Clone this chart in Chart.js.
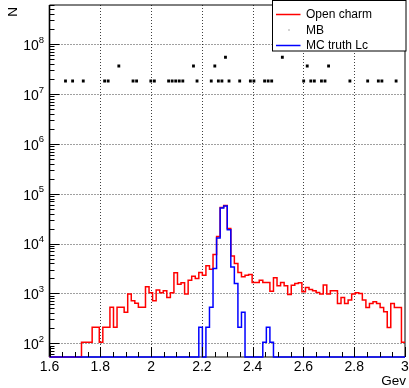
<!DOCTYPE html>
<html>
<head>
<meta charset="utf-8">
<script src="https://cdn.jsdelivr.net/npm/chart.js@4.4.1/dist/chart.umd.min.js"></script>
<style>
  html, body { margin: 0; padding: 0; background: #fff; }
  #wrap { position: relative; width: 409px; height: 388px; }
</style>
</head>
<body>
<div id="wrap"><canvas id="chart" width="409" height="388"></canvas></div>
<script>
// histogram binning: 100 bins from 1.6 to 3.0 GeV
const X_MIN = 1.6
const X_MAX = 3.0
const BIN_W = 0.014
const Y_MIN = 53
const Y_MAX = 6.1e8

const xTickLabels = ['1.6', '1.8', '2', '2.2', '2.4', '2.6', '2.8', '3']
const yDecades = [2, 3, 4, 5, 6, 7, 8]

// bin contents
const openCharm = [
  0, 0, 0, 0, 0, 0, 0, 0, 0,
  105, 105, 105, 209, 209, 105, 209, 209, 525, 209,
  525, 525, 418, 968, 711, 631, 525, 525, 1355, 1028,
  711, 1164, 1028, 1127, 832, 1028, 2582, 1535, 1630, 968,
  1845, 2218, 2000, 2630, 2300, 3600, 3060, 6030, 13800, 53000,
  58000, 20000, 5650, 3980, 2630, 2150, 2320, 2390, 1660, 1660,
  1845, 1660, 1660, 1110, 2050, 1420, 1660, 1420, 955, 1460,
  1580, 1630, 1080, 1316, 1200, 1130, 1045, 968, 1466, 968,
  1130, 1130, 630, 830, 630, 735, 968, 1030, 1000, 735,
  524, 630, 681, 630, 524, 430, 208, 630, 524, 524, 105
]

const mcTruthLc = [
  0, 0, 0, 0, 0, 0, 0, 0, 0, 0,
  0, 0, 0, 0, 0, 0, 0, 0, 0, 0,
  0, 0, 0, 0, 0, 0, 0, 0, 0, 0,
  0, 0, 0, 0, 0, 0, 0, 0, 0, 0,
  0, 0, 209, 0, 209, 525, 3160, 12900, 51500, 56500,
  19000, 3400, 1585, 209, 418, 0, 0, 0, 0, 0,
  105, 209, 105, 0, 0, 0, 0, 0, 0, 0,
  0, 0, 0, 0, 0, 0, 0, 0, 0, 0,
  0, 0, 0, 0, 0, 0, 0, 0, 0, 0,
  0, 0, 0, 0, 0, 0, 0, 0, 0, 0
]

// MB: only the filled bins, drawn as markers
const mbBins = [4, 6, 9, 15, 16, 19, 23, 24, 28, 29, 33, 34, 35, 36, 37, 40, 41, 45, 46, 47,
  48, 49, 50, 53, 56, 57, 60, 61, 62, 65, 71, 72, 73, 74, 76, 77, 78, 84, 89, 92, 93, 97]
const mbValues = [1.82e7, 1.82e7, 1.82e7, 1.82e7, 1.82e7, 3.64e7, 1.82e7, 1.82e7, 1.82e7, 1.82e7,
  1.82e7, 1.82e7, 1.82e7, 1.82e7, 1.82e7, 3.64e7, 1.82e7, 1.82e7, 3.64e7, 1.82e7,
  1.82e7, 5.46e7, 1.82e7, 1.82e7, 1.82e7, 1.82e7, 1.82e7, 1.82e7, 1.82e7, 5.46e7,
  1.82e7, 3.64e7, 1.82e7, 1.82e7, 1.82e7, 1.82e7, 3.64e7, 1.82e7, 1.82e7, 1.82e7,
  1.82e7, 1.82e7]

const FONT = '"Liberation Sans", Arial, sans-serif'

// histogram outline: one point per lower bin edge, empty bins sit on the frame bottom
function histSteps(values) {
  let pts = values.map((v, k) => ({ x: X_MIN + k * BIN_W, y: Math.max(v, Y_MIN) }))
  pts.push({ x: X_MAX, y: Math.max(values[values.length - 1], Y_MIN) })
  return pts
}

function seg(ctx, x0, y0, x1, y1) {
  ctx.beginPath()
  ctx.moveTo(x0, y0)
  ctx.lineTo(x1, y1)
  ctx.stroke()
}

// ROOT-like frame: dotted grid, inner ticks, 10^n labels, boxed legend
const rootFrame = {
  id: 'rootFrame',
  beforeDatasetsDraw(chart) {
    const { ctx, chartArea: a, scales: { x, y } } = chart
    ctx.save()
    ctx.strokeStyle = 'rgba(0,0,0,0.75)'
    ctx.lineWidth = 1
    ctx.setLineDash([1, 2])
    for (let i = 1; i < xTickLabels.length - 1; i++) {
      let px = Math.round(x.getPixelForValue(X_MIN + 0.2 * i)) + 0.5
      seg(ctx, px, a.top, px, a.bottom)
    }
    yDecades.forEach(e => {
      let py = Math.round(y.getPixelForValue(Math.pow(10, e))) + 0.5
      seg(ctx, a.left, py, a.right, py)
    })
    ctx.setLineDash([])
    // frame
    ctx.strokeStyle = '#000'
    ctx.lineWidth = 1
    seg(ctx, a.left, a.top, a.right, a.top)
    seg(ctx, a.right, a.top, a.right, a.bottom)
    seg(ctx, a.left, a.bottom, a.right, a.bottom)
    ctx.lineWidth = 1.6
    seg(ctx, a.left, a.top, a.left, a.bottom)
    ctx.restore()
  },
  afterDatasetsDraw(chart) {
    const { ctx, chartArea: a, scales: { x, y } } = chart
    ctx.save()
    ctx.strokeStyle = '#000'
    ctx.fillStyle = '#000'
    ctx.lineWidth = 1

    // x ticks, inside the frame
    for (let i = 0; i <= 28; i++) {
      let px = Math.round(x.getPixelForValue(X_MIN + 0.05 * i)) + 0.5
      let len = i % 4 === 0 ? 10 : 5
      seg(ctx, px, a.bottom, px, a.bottom - len)
    }
    // y ticks
    for (let e = 1; e <= 8; e++) {
      for (let m = 1; m <= 9; m++) {
        let v = m * Math.pow(10, e)
        if (v < Y_MIN || v > Y_MAX) continue
        let py = Math.round(y.getPixelForValue(v)) + 0.5
        seg(ctx, a.left, py, a.left + (m === 1 ? 10 : 5), py)
      }
    }

    // x labels
    ctx.font = '14px ' + FONT
    ctx.textAlign = 'center'
    ctx.textBaseline = 'middle'
    xTickLabels.forEach((t, i) => {
      ctx.fillText(t, x.getPixelForValue(X_MIN + 0.2 * i), 367)
    })
    ctx.textAlign = 'right'
    ctx.font = '13.5px ' + FONT
    ctx.fillText('Gev', 406, 381)

    // y labels as 10 with a raised exponent
    yDecades.forEach(e => {
      let py = y.getPixelForValue(Math.pow(10, e))
      ctx.font = '9.5px ' + FONT
      let ew = ctx.measureText(String(e)).width
      ctx.fillText(String(e), 44, py - 4)
      ctx.font = '14px ' + FONT
      ctx.fillText('10', 44 - ew, py + 2)
    })

    // y title
    ctx.save()
    ctx.translate(13, 12)
    ctx.rotate(-Math.PI / 2)
    ctx.font = '13.5px ' + FONT
    ctx.textAlign = 'center'
    ctx.fillText('N', 0, 0)
    ctx.restore()

    // legend
    ctx.fillStyle = '#fff'
    ctx.fillRect(272.5, 0.5, 133.5, 50.5)
    ctx.strokeStyle = '#000'
    ctx.strokeRect(272.5, 0.5, 133.5, 50.5)
    let rows = [14, 30, 45]
    chart.data.datasets.forEach((ds, i) => {
      let ry = rows[i]
      if (ds.showLine === false) {
        ctx.fillStyle = '#555'
        ctx.fillRect(288.5, ry - 0.5, 1, 1)
      } else {
        ctx.strokeStyle = ds.borderColor
        ctx.lineWidth = 1.5
        seg(ctx, 276, ry + 0.5, 300.5, ry + 0.5)
      }
      ctx.fillStyle = '#000'
      ctx.font = '12px ' + FONT
      ctx.textAlign = 'left'
      ctx.fillText(ds.label, 306, ry + 0.5)
    })
    ctx.restore()
  }
}

new Chart(document.getElementById('chart'), {
  type: 'line',
  data: {
    datasets: [
      {
        label: 'Open charm',
        data: histSteps(openCharm),
        borderColor: '#ff0000',
        borderWidth: 1.5,
        stepped: 'before',
        pointRadius: 0,
        fill: false,
        clip: 3,
        order: 2
      },
      {
        label: 'MB',
        data: mbBins.map((k, i) => ({ x: X_MIN + (k + 0.5) * BIN_W, y: mbValues[i] })),
        showLine: false,
        pointStyle: 'rect',
        pointRadius: 2,
        pointBorderWidth: 0,
        pointBackgroundColor: '#000',
        borderColor: '#000',
        order: 1
      },
      {
        label: 'MC truth Lc',
        data: histSteps(mcTruthLc),
        borderColor: '#0000ff',
        borderWidth: 1.5,
        stepped: 'before',
        pointRadius: 0,
        fill: false,
        clip: 3,
        order: 0
      }
    ]
  },
  options: {
    responsive: false,
    animation: false,
    devicePixelRatio: 1,
    events: [],
    layout: { padding: { left: 49.5, top: 5, right: 2, bottom: 31 } },
    scales: {
      x: { type: 'linear', min: X_MIN, max: X_MAX, display: false },
      y: { type: 'logarithmic', min: Y_MIN, max: Y_MAX, display: false }
    },
    plugins: {
      legend: { display: false },
      tooltip: { enabled: false }
    }
  },
  plugins: [rootFrame]
})
</script>
</body>
</html>
